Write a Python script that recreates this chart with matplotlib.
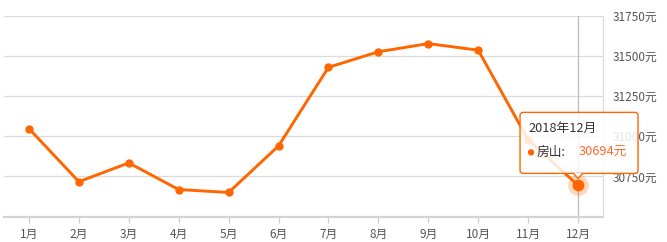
import matplotlib
matplotlib.use("Agg")
import matplotlib.pyplot as plt
import matplotlib.transforms as mtransforms
from matplotlib.patches import FancyBboxPatch, Polygon, Circle

plt.rcParams['font.family'] = ['Noto Sans CJK SC', 'DejaVu Sans']

months = ['1月', '2月', '3月', '4月', '5月', '6月', '7月', '8月', '9月', '10月', '11月', '12月']
prices = [31048, 30717, 30834, 30668, 30650, 30940, 31430, 31527, 31578, 31537, 30979, 30694]
y_ticks = [30750, 31000, 31250, 31500, 31750]
y_min, y_max = 30500, 31750
tip_title = '2018年12月'
series_name = '房山'
hover_index = 11

ORANGE = '#ff6600'
W, H = 667, 242
fig = plt.figure(figsize=(W / 100, H / 100), dpi=100)
ax = fig.add_axes([4 / W, (H - 216.5) / H, (603 - 4) / W, (216.5 - 16) / H])

x = list(range(len(months)))
ax.set_xlim(-0.5, len(months) - 0.5)
ax.set_ylim(y_min, y_max)

# grid
for v in y_ticks:
    ax.axhline(v, color='#dcdcdc', lw=0.9, zorder=0)

# crosshair
ax.axvline(x[hover_index], color='#bbbbbb', lw=0.9, zorder=1, clip_on=False)

ax.plot(x, prices, color=ORANGE, lw=2.1, marker='o', markersize=5, zorder=3,
        solid_joinstyle='round')
# highlighted point
ax.plot([x[hover_index]], [prices[hover_index]], 'o', color=ORANGE, alpha=0.25,
        markersize=15, markeredgewidth=0, zorder=4)
ax.plot([x[hover_index]], [prices[hover_index]], 'o', color=ORANGE,
        markersize=8.5, markeredgewidth=0, zorder=5)

ax.set_xticks(x)
ax.set_xticklabels(months)
ax.set_yticks(y_ticks)
ax.set_yticklabels([f'{v}元' for v in y_ticks])
ax.yaxis.tick_right()
ax.tick_params(axis='y', length=0, pad=7, labelsize=8.5, labelcolor='#555555')
ax.tick_params(axis='x', length=4, width=0.9, color='#cccccc', pad=4,
               labelsize=8.5, labelcolor='#555555')

for s in ['top', 'left']:
    ax.spines[s].set_visible(False)
ax.spines['right'].set_color('#dddddd')
ax.spines['right'].set_linewidth(0.9)
ax.spines['bottom'].set_color('#d4d4d4')
ax.spines['bottom'].set_linewidth(1.6)

# tooltip
fig.canvas.draw()
px, py = ax.transData.transform((x[hover_index], prices[hover_index]))
tr = mtransforms.Affine2D().translate(px, py)
box = FancyBboxPatch((-58, 12), 118, 61, boxstyle='round,pad=0,rounding_size=3',
                     transform=tr, facecolor='white', alpha=0.85,
                     edgecolor='none', zorder=10)
fig.patches.append(box)
border = FancyBboxPatch((-58, 12), 118, 61, boxstyle='round,pad=0,rounding_size=3',
                        transform=tr, facecolor='none', edgecolor=ORANGE,
                        lw=1.0, zorder=11)
fig.patches.append(border)
arrow = Polygon([(-5, 12.3), (0, 7), (5, 12.3)], closed=False, transform=tr,
                facecolor='white', edgecolor=ORANGE, lw=1.0, zorder=12)
fig.patches.append(arrow)

fig.text(-50, 57, tip_title, transform=tr, fontsize=9.2, color='#333333',
         va='center', ha='left', zorder=13)
fig.patches.append(Circle((-47, 33), 3.2, transform=tr, facecolor=ORANGE,
                          edgecolor='none', zorder=13))
fig.text(-41, 33, f'{series_name}:', transform=tr, fontsize=9.2, color='#333333',
         va='center', ha='left', zorder=13)
fig.text(1, 33, f'{prices[hover_index]}元', transform=tr, fontsize=9.2,
         color='#ff6a2a', va='center', ha='left', zorder=13)

fig.savefig('out.png', dpi=100)
